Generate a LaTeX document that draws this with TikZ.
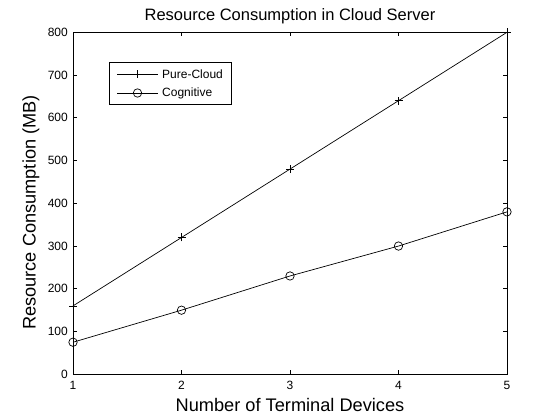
\documentclass[tikz,border=0pt]{standalone}
\usepackage{fontspec}
\setmainfont{Liberation Sans}
\tikzset{
  axisline/.style={line width=0.8pt, black},
  dataline/.style={line width=0.7pt, black},
  ticklab/.style={inner sep=0pt, font=\fontsize{12}{14}\selectfont},
  legtext/.style={inner sep=0pt, anchor=west, font=\fontsize{12}{14}\selectfont},
  titletext/.style={inner sep=0pt, anchor=base, font=\fontsize{16.5}{19}\selectfont},
  labeltext/.style={inner sep=0pt, anchor=base, font=\fontsize{18.2}{21}\selectfont},
  circmark/.style={circle, draw, line width=0.7pt, minimum size=8.4pt, inner sep=0pt},
}
\newcommand{\plusmark}[1]{\draw[dataline] ([xshift=-4pt]#1) -- ([xshift=4pt]#1) ([yshift=-4pt]#1) -- ([yshift=4pt]#1);}
\begin{document}
\begin{tikzpicture}[x=1pt,y=-1pt]
\useasboundingbox (0,0) rectangle (560,420);
\fill[white] (0,0) rectangle (560,420);
% axes frame
\draw[axisline] (73,32.5) rectangle (507,374.3);
% title and labels
\node[titletext] (title) at (290,20.8) {Resource Consumption in Cloud Server};
\node[labeltext] (xlabel) at (290,411) {Number of Terminal Devices};
\node[labeltext, rotate=90] (ylabel) at (35.5,212.5) {Resource Consumption (MB)};
\begin{scope}[shift={(73,374.3)},x=108.5pt,y=0.4275pt]
  % x ticks and labels
  \foreach \i in {1,...,5}{
    \draw[axisline] (\i-1,0) -- ++(0pt,4pt);
    \draw[axisline] (\i-1,800) -- ++(0pt,-4pt);
    \node[ticklab, anchor=north] (xt\i) at ([yshift=-6.4pt]\i-1,0) {\i};
  }
  % y ticks and labels
  \foreach \v in {0,100,...,800}{
    \draw[axisline] (0,\v) -- ++(4pt,0pt);
    \draw[axisline] (4,\v) -- ++(-4pt,0pt);
    \node[ticklab, anchor=east] (yt\v) at ([xshift=-5pt]0,\v) {\v};
  }
  % data
  \coordinate (p1) at (0,160);
  \coordinate (p2) at (1,320);
  \coordinate (p3) at (2,480);
  \coordinate (p4) at (3,640);
  \coordinate (p5) at (4,800);
  \coordinate (c1) at (0,75);
  \coordinate (c2) at (1,150);
  \coordinate (c3) at (2,230);
  \coordinate (c4) at (3,300);
  \coordinate (c5) at (4,380);
  \draw[dataline] (p1) -- (p2) -- (p3) -- (p4) -- (p5);
  \draw[dataline] (c1) -- (c2) -- (c3) -- (c4) -- (c5);
  \foreach \k in {1,...,5}{
    \plusmark{p\k}
    \node[circmark] (cm\k) at (c\k) {};
  }
\end{scope}
% legend
\draw[axisline, fill=white] (109,62) rectangle (231,104);
\coordinate (la1) at (117,74);
\coordinate (lb1) at (158,74);
\coordinate (lm1) at (137.5,74);
\coordinate (la2) at (117,93);
\coordinate (lb2) at (158,93);
\coordinate (lm2) at (137.5,93);
\draw[dataline] (la1) -- (lb1);
\plusmark{lm1}
\draw[dataline] (la2) -- (lb2);
\node[circmark] (legc) at (lm2) {};
\node[legtext] (leg1) at (162,74) {Pure-Cloud};
\node[legtext] (leg2) at (162,93) {Cognitive};
\end{tikzpicture}
\end{document}
